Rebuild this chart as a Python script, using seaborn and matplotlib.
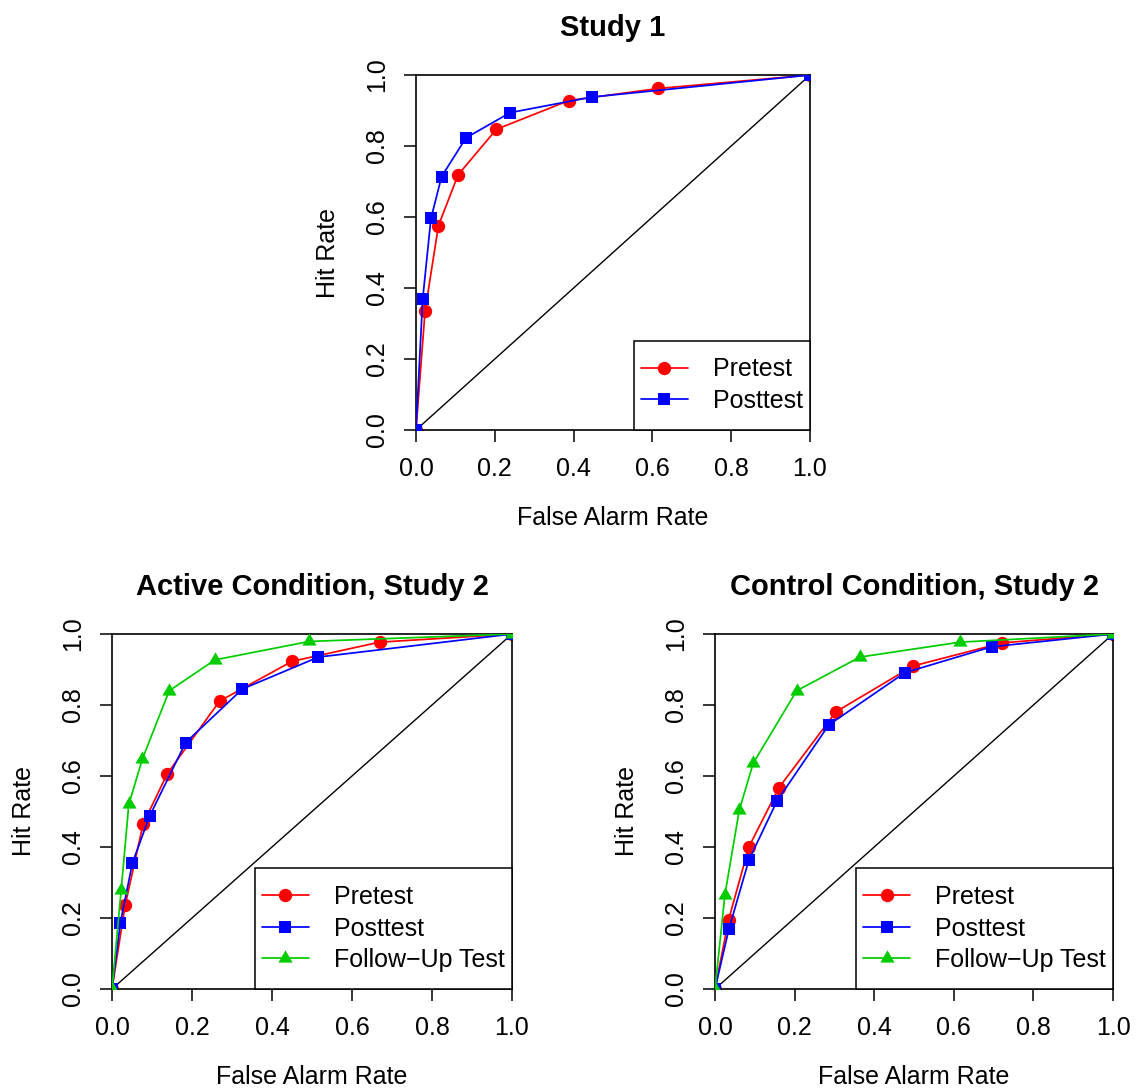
import matplotlib
matplotlib.use("Agg")
import matplotlib.pyplot as plt
from matplotlib.path import Path
import numpy as np
import pandas as pd
import seaborn as sns

# ROC points (false alarm rate, hit rate) per test session
study1_pre_far = [0.0, 0.023, 0.057, 0.107, 0.204, 0.388, 0.615, 1.0]
study1_pre_hit = [0.0, 0.335, 0.576, 0.719, 0.847, 0.928, 0.962, 1.0]
study1_post_far = [0.0, 0.017, 0.038, 0.065, 0.127, 0.239, 0.447, 1.0]
study1_post_hit = [0.0, 0.369, 0.596, 0.714, 0.823, 0.894, 0.938, 1.0]

active_pre_far = [0.0, 0.033, 0.078, 0.138, 0.269, 0.450, 0.669, 1.0]
active_pre_hit = [0.0, 0.237, 0.465, 0.606, 0.811, 0.923, 0.977, 1.0]
active_post_far = [0.0, 0.021, 0.051, 0.094, 0.184, 0.326, 0.516, 1.0]
active_post_hit = [0.0, 0.187, 0.355, 0.487, 0.694, 0.845, 0.935, 1.0]
active_follow_far = [0.0, 0.023, 0.042, 0.076, 0.143, 0.257, 0.493, 1.0]
active_follow_hit = [0.0, 0.280, 0.520, 0.648, 0.840, 0.927, 0.979, 1.0]

control_pre_far = [0.0, 0.034, 0.085, 0.160, 0.304, 0.498, 0.722, 1.0]
control_pre_hit = [0.0, 0.194, 0.400, 0.566, 0.781, 0.910, 0.975, 1.0]
control_post_far = [0.0, 0.035, 0.085, 0.156, 0.286, 0.477, 0.695, 1.0]
control_post_hit = [0.0, 0.169, 0.363, 0.530, 0.744, 0.891, 0.964, 1.0]
control_follow_far = [0.0, 0.025, 0.061, 0.096, 0.205, 0.364, 0.615, 1.0]
control_follow_hit = [0.0, 0.266, 0.504, 0.636, 0.840, 0.935, 0.977, 1.0]

session_labels = ["Pretest", "Posttest", "Follow\u2212Up Test"]
panel_titles = ["Study 1", "Active Condition, Study 2", "Control Condition, Study 2"]
tick_values = [0.0, 0.2, 0.4, 0.6, 0.8, 1.0]
tick_labels = ["0.0", "0.2", "0.4", "0.6", "0.8", "1.0"]

sns.set_style("ticks")
plt.rcParams["font.family"] = ["Liberation Sans", "DejaVu Sans"]
plt.rcParams.update({
    "text.color": "black",
    "axes.labelcolor": "black",
    "xtick.color": "black",
    "ytick.color": "black",
    "axes.edgecolor": "black",
    "axes.linewidth": 1.2,
})

FS = 18          # tick, axis label and legend text size (pt)
TITLE_FS = 21
LEG_VPAD = 0.40  # extra vertical room inside the legend frame, in font units

# R-like filled triangle (centroid at the data point)
triangle = [(0.0, 1.555), (1.347, -0.778), (-1.347, -0.778)]
styles = [
    dict(color="#FF0000", marker="o", markersize=9.6),
    dict(color="#0000FF", marker="s", markersize=8.6),
    dict(color="#00CD00", marker=triangle, markersize=11.8),
]

W, H = 1136, 1088
DPI = 100
fig = plt.figure(figsize=(W / DPI, H / DPI), dpi=DPI)


def px_rect(left, right, top, bottom):
    return [left / W, 1 - bottom / H, (right - left) / W, (bottom - top) / H]


def tall_square(x0, y0, width, height, mutation_size):
    # square frame with extra space above and below the entries
    ext = LEG_VPAD * mutation_size
    y0 -= ext
    height += 2 * ext
    return Path([(x0, y0), (x0 + width, y0), (x0 + width, y0 + height),
                 (x0, y0 + height), (x0, y0)],
                [Path.MOVETO, Path.LINETO, Path.LINETO, Path.LINETO, Path.CLOSEPOLY])


axes = [
    fig.add_axes(px_rect(416, 810, 75, 430)),
    fig.add_axes(px_rect(112, 512, 634, 989)),
    fig.add_axes(px_rect(715, 1113, 634, 989)),
]

panels = [
    [(study1_pre_far, study1_pre_hit), (study1_post_far, study1_post_hit)],
    [(active_pre_far, active_pre_hit), (active_post_far, active_post_hit),
     (active_follow_far, active_follow_hit)],
    [(control_pre_far, control_pre_hit), (control_post_far, control_post_hit),
     (control_follow_far, control_follow_hit)],
]

for ax, title, series in zip(axes, panel_titles, panels):
    ax.axline((0, 0), slope=1, color="black", linewidth=1.0, zorder=1)
    for i, (far, hit) in enumerate(series):
        df = pd.DataFrame({"far": far, "hit": hit})
        st = styles[i]
        sns.lineplot(data=df, x="far", y="hit", ax=ax, sort=False, estimator=None,
                     color=st["color"], marker=st["marker"], markersize=st["markersize"],
                     markeredgewidth=0, markerfacecolor=st["color"],
                     linewidth=1.25, label=session_labels[i], zorder=2 + i)
    ax.set_xlim(0, 1)
    ax.set_ylim(0, 1)
    ax.set_xticks(tick_values)
    ax.set_xticklabels(tick_labels)
    ax.set_yticks(tick_values)
    ax.set_yticklabels(tick_labels)
    ax.tick_params(axis="both", direction="out", length=8.6, width=1.1,
                   labelsize=FS, pad=10.5, colors="black")
    ax.tick_params(axis="y", labelrotation=90)
    for lab in ax.get_yticklabels():
        lab.set_va("center")
    for sp in ax.spines.values():
        sp.set_visible(True)
        sp.set_color("black")
        sp.set_linewidth(1.2)
    ax.set_xlabel("False Alarm Rate", fontsize=FS, labelpad=18)
    ax.set_ylabel("Hit Rate", fontsize=FS, labelpad=18)
    ax.set_title(title, fontsize=TITLE_FS, fontweight="bold", pad=28)

    # lift the legend so its enlarged frame sits on the bottom axis
    ax_h_px = ax.get_position().height * H
    lift = LEG_VPAD * FS * DPI / 72 / ax_h_px
    leg = ax.legend(loc="lower right", bbox_to_anchor=(1, lift), borderaxespad=0,
                    fancybox=False, framealpha=1, edgecolor="black", fontsize=FS,
                    handlelength=1.9, handletextpad=1.0, labelspacing=0.30,
                    borderpad=0.28)
    frame = leg.get_frame()
    frame.set_boxstyle(tall_square)
    frame.set_linewidth(1.1)

fig.savefig("out.png", dpi=DPI, facecolor="white")
